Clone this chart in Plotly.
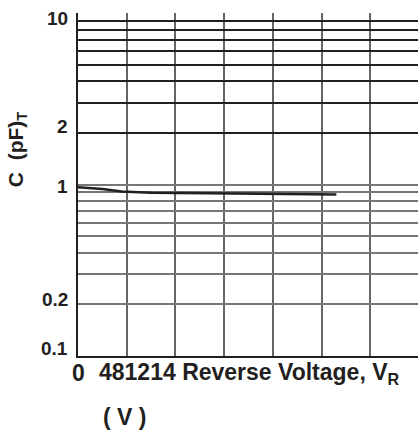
import math
import plotly.graph_objects as go

# ---- data ----
voltage = [0, 0.5, 1.0, 1.8, 3.0, 5.3, 6.5, 8.6, 10.6]
capacitance = [0.965, 0.955, 0.94, 0.91, 0.895, 0.89, 0.888, 0.882, 0.875]

x_grid = [0, 2, 4, 6, 8, 10, 12, 14]
y_upper_grid = [2, 3, 4, 5, 6, 7, 8, 9, 10]
y_lower_grid = [0.1, 0.2, 0.3, 0.4, 0.5, 0.6, 0.7, 0.8, 0.9, 1]
y_tick_vals = [10, 2, 1, 0.2, 0.1]
y_tick_text = ["10", "2", "1", "0.2", "0.1"]
x_label_zero = "0"
x_label_text = "481214 Reverse Voltage, V<sub>R</sub>"
x_unit_text = "( V )"
y_title_text = "C  (pF)<sub>T</sub>"

INK = "#231f20"
FONT = "Liberation Sans"

fig = go.Figure()
fig.add_trace(go.Scatter(x=voltage, y=capacitance, mode="lines",
                         line=dict(color=INK, width=2.5),
                         hoverinfo="skip", showlegend=False))
fig.add_trace(go.Scatter(x=voltage, y=capacitance, yaxis="y2", mode="lines",
                         line=dict(color="rgba(0,0,0,0)", width=0),
                         hoverinfo="skip", showlegend=False))

label_shift = {"10": -5, "2": 6, "1": -2, "0.2": 5, "0.1": 8}
annotations = []
for v, t in zip(y_tick_vals, y_tick_text):
    annotations.append(dict(
        text=t, xref="paper", x=0, xanchor="right", xshift=-8,
        yref="y", y=math.log10(v), yanchor="middle", yshift=label_shift[t],
        showarrow=False, font=dict(family=FONT, size=19, color=INK, weight=700)))

annotations.append(dict(
    text=x_label_zero, xref="x", x=0, xanchor="center",
    yref="paper", y=0, yanchor="middle", yshift=-17,
    showarrow=False, font=dict(family=FONT, size=23, color=INK, weight=700)))
annotations.append(dict(
    text=x_label_text, xref="x", x=0, xanchor="left", xshift=19,
    yref="paper", y=0, yanchor="middle", yshift=-17,
    showarrow=False, font=dict(family=FONT, size=23, color=INK, weight=700)))
annotations.append(dict(
    text=x_unit_text, xref="x", x=0, xanchor="center", xshift=46,
    yref="paper", y=0, yanchor="middle", yshift=-61,
    showarrow=False, font=dict(family=FONT, size=23, color=INK, weight=700)))
annotations.append(dict(
    text=y_title_text, xref="paper", x=0, xanchor="center", xshift=-61,
    yref="paper", y=0.6, yanchor="middle", textangle=-90,
    showarrow=False, font=dict(family=FONT, size=21, color=INK, weight=700)))

fig.update_layout(
    width=418, height=434,
    margin=dict(l=78, r=0, t=13, b=78),
    paper_bgcolor="white", plot_bgcolor="white",
    showlegend=False,
    xaxis=dict(range=[0, 13.95], tickvals=x_grid, showticklabels=False,
               ticks="", showgrid=True, gridcolor="#666666", gridwidth=2,
               showline=True, linecolor=INK, linewidth=2, zeroline=False),
    yaxis=dict(type="log", range=[-1, 1], tickvals=y_upper_grid,
               showticklabels=False, ticks="", showgrid=True,
               gridcolor=INK, gridwidth=1.5,
               showline=True, linecolor=INK, linewidth=2, zeroline=False),
    yaxis2=dict(type="log", range=[-1, 1], overlaying="y", side="left",
                tickvals=y_lower_grid, showticklabels=False, ticks="",
                showgrid=True, gridcolor="#777777", gridwidth=2,
                showline=False, zeroline=False),
    annotations=annotations,
)

fig.write_html("out.html")
